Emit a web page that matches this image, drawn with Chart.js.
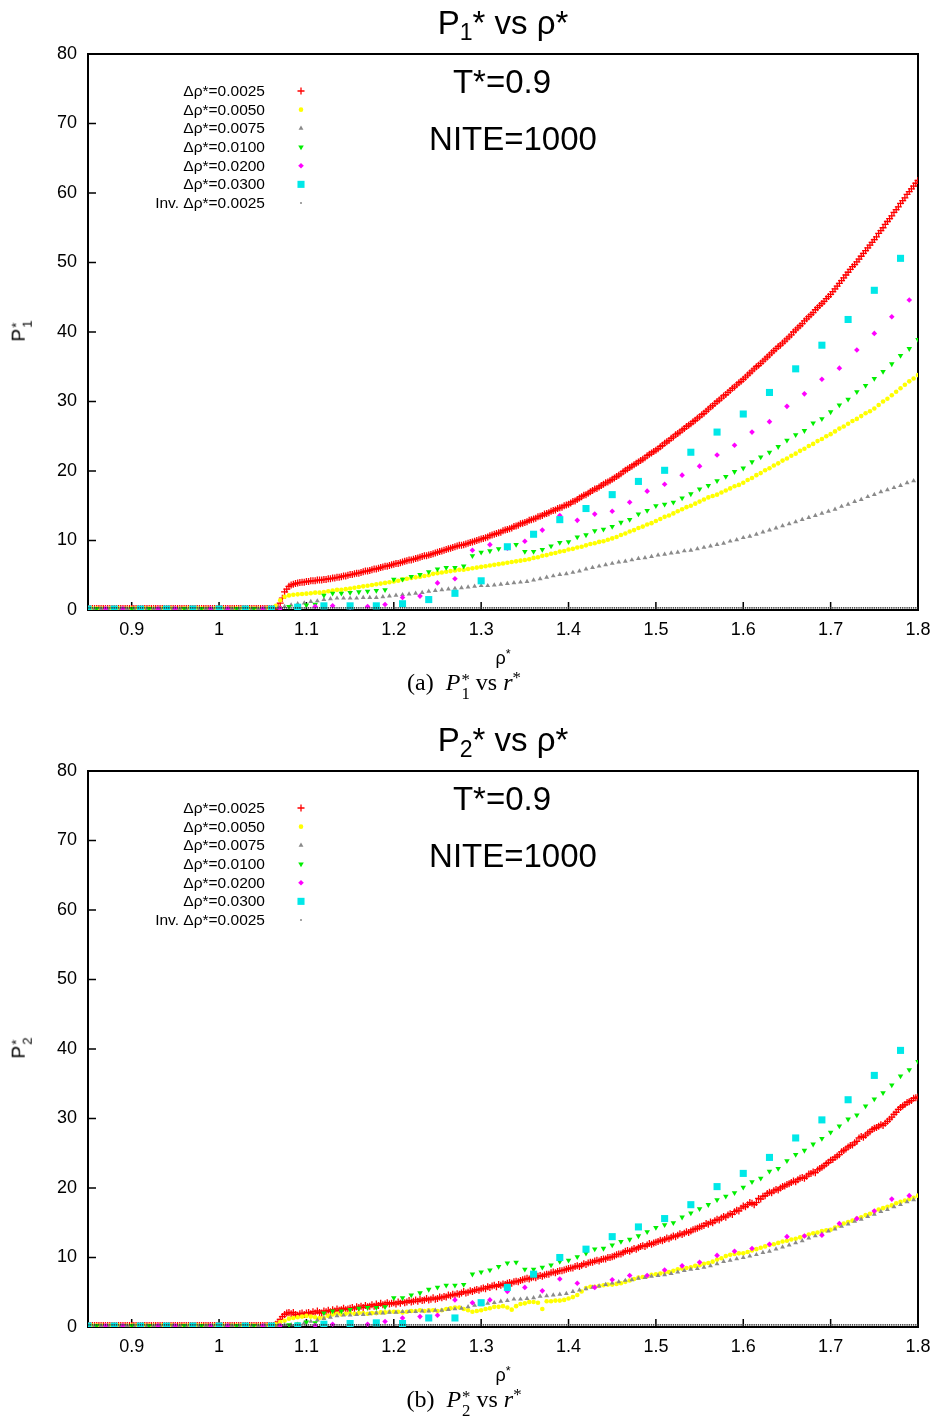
<!DOCTYPE html>
<html>
<head>
<meta charset="utf-8">
<script src="https://cdn.jsdelivr.net/npm/chart.js@4.4.0/dist/chart.umd.min.js"></script>
<style>
  body { margin: 0; background: #fff; width: 935px; height: 1420px; position: relative; overflow: hidden;
         font-family: 'Liberation Sans', Arial, sans-serif; color: #000; }
  canvas { position: absolute; left: 0; }
  .t { position: absolute; white-space: nowrap; transform: translate(-50%, -50%); line-height: 1; }
  .t sub { font-size: 0.7em; vertical-align: -0.3em; line-height: 0; }
  .t sup { font-size: 0.7em; vertical-align: 0.45em; line-height: 0; }
  .title { font-size: 33px; }
  .note { font-size: 33px; }
  .leg { font-size: 15.5px; transform: translate(-100%, -50%); }
  .axl { font-size: 18px; }
  .ylab { font-size: 19px; transform: translate(-50%, -50%) rotate(-90deg); }
  .cap { font-family: 'Liberation Serif', 'Times New Roman', serif; font-size: 24px; }
  .stk { display: inline-flex; flex-direction: column; font-size: 0.7em; line-height: 0.85; vertical-align: 0.3em; margin-left: 1px; }
</style>
</head>
<body>
<canvas id="c1" width="935" height="700" style="top:0px"></canvas>
<canvas id="c2" width="935" height="700" style="top:717px"></canvas>
<script>
// axis ticks and series labels
var xTickValues = [0.9, 1, 1.1, 1.2, 1.3, 1.4, 1.5, 1.6, 1.7, 1.8];
var yTickValues = [0, 10, 20, 30, 40, 50, 60, 70, 80];
var seriesLabels = ['Δρ*=0.0025', 'Δρ*=0.0050', 'Δρ*=0.0075', 'Δρ*=0.0100', 'Δρ*=0.0200', 'Δρ*=0.0300', 'Inv. Δρ*=0.0025'];
var seriesSteps = [0.0025, 0.005, 0.0075, 0.01, 0.02, 0.03, 0.0025];
var rhoStart = 0.85;

// ---- P1* (chart a) ----
var p1Red = [
  0.2,0.2,0.2,0.2,0.2,0.2,0.2,0.2,0.2,0.2,
  0.2,0.2,0.2,0.2,0.2,0.2,0.2,0.2,0.2,0.2,
  0.2,0.2,0.2,0.2,0.2,0.2,0.2,0.2,0.2,0.2,
  0.2,0.2,0.2,0.2,0.2,0.2,0.2,0.2,0.2,0.2,
  0.2,0.2,0.2,0.2,0.2,0.2,0.2,0.2,0.2,0.2,
  0.2,0.2,0.2,0.2,0.2,0.2,0.2,0.2,0.2,0.2,
  0.2,0.2,0.2,0.2,0.2,0.2,0.2,0.2,0.2,0.2,
  0.2,0.2,0.2,0.2,0.2,0.2,0.2,0.2,0.2,0.2,
  0.2,0.2,0.2,0.2,0.2,0.2,0.2,0.5,1.0,1.7,
  2.6,3.0,3.4,3.6,3.7,3.8,3.9,3.95,4.0,4.0,
  4.1,4.1,4.2,4.2,4.2,4.3,4.3,4.3,4.4,4.4,
  4.5,4.5,4.6,4.6,4.7,4.7,4.8,4.9,4.9,5.0,
  5.1,5.1,5.2,5.3,5.3,5.4,5.5,5.6,5.6,5.7,
  5.8,5.9,5.9,6.0,6.1,6.2,6.3,6.3,6.4,6.5,
  6.6,6.7,6.7,6.8,6.9,7.0,7.1,7.2,7.2,7.3,
  7.4,7.5,7.6,7.7,7.8,7.8,7.9,8.0,8.1,8.2,
  8.3,8.4,8.5,8.6,8.7,8.8,8.9,9.0,9.1,9.2,
  9.3,9.3,9.4,9.5,9.6,9.7,9.8,9.9,10.0,10.1,
  10.2,10.3,10.4,10.5,10.7,10.8,10.9,11.0,11.1,11.2,
  11.4,11.5,11.6,11.7,11.8,12.0,12.1,12.2,12.4,12.5,
  12.6,12.7,12.9,13.0,13.1,13.2,13.4,13.5,13.6,13.8,
  13.9,14.0,14.2,14.3,14.4,14.6,14.7,14.8,15.0,15.1,
  15.2,15.4,15.6,15.7,15.9,16.1,16.3,16.5,16.6,16.8,
  17.0,17.2,17.4,17.5,17.7,17.9,18.1,18.3,18.4,18.6,
  18.8,19.0,19.2,19.4,19.6,19.9,20.1,20.3,20.5,20.7,
  20.9,21.1,21.3,21.5,21.7,21.9,22.2,22.4,22.6,22.8,
  23.0,23.2,23.5,23.7,24.0,24.2,24.4,24.7,24.9,25.2,
  25.4,25.6,25.9,26.1,26.4,26.6,26.8,27.1,27.3,27.6,
  27.8,28.1,28.3,28.6,28.9,29.2,29.4,29.7,30.0,30.2,
  30.5,30.8,31.0,31.3,31.6,31.9,32.1,32.4,32.7,32.9,
  33.2,33.5,33.8,34.1,34.4,34.7,35.0,35.2,35.5,35.8,
  36.1,36.4,36.7,37.0,37.3,37.6,37.9,38.1,38.4,38.7,
  39.0,39.3,39.6,40.0,40.3,40.6,40.9,41.2,41.6,41.9,
  42.2,42.5,42.8,43.2,43.5,43.8,44.1,44.4,44.8,45.1,
  45.4,45.8,46.2,46.6,47.0,47.4,47.8,48.2,48.6,49.0,
  49.4,49.7,50.1,50.5,50.9,51.3,51.7,52.1,52.5,52.9,
  53.3,53.7,54.2,54.6,55.0,55.5,55.9,56.3,56.7,57.2,
  57.6,58.0,58.5,58.9,59.3,59.8,60.2,60.6,61.0,61.4,
  61.8
];
var p1Yellow = [
  0.2,0.2,0.2,0.2,0.2,0.2,0.2,0.2,0.2,0.2,
  0.2,0.2,0.2,0.2,0.2,0.2,0.2,0.2,0.2,0.2,
  0.2,0.2,0.2,0.2,0.2,0.2,0.2,0.2,0.2,0.2,
  0.2,0.2,0.2,0.2,0.2,0.2,0.2,0.2,0.2,0.2,
  0.2,0.2,0.2,0.6,1.4,1.9,2.1,2.2,2.25,2.3,
  2.35,2.4,2.5,2.5,2.6,2.7,2.8,2.9,2.9,3.0,
  3.1,3.2,3.3,3.4,3.5,3.6,3.7,3.8,3.9,4.0,
  4.1,4.2,4.4,4.5,4.6,4.7,4.8,4.9,5.0,5.2,
  5.3,5.4,5.5,5.6,5.7,5.8,5.8,5.9,6.0,6.1,
  6.2,6.3,6.4,6.5,6.6,6.7,6.8,6.9,7.0,7.1,
  7.2,7.3,7.5,7.6,7.8,7.9,8.1,8.2,8.4,8.5,
  8.7,8.8,9.0,9.1,9.3,9.5,9.6,9.8,9.9,10.1,
  10.3,10.5,10.8,11.0,11.3,11.5,11.8,12.0,12.3,12.5,
  12.8,13.1,13.4,13.6,13.9,14.2,14.5,14.8,15.0,15.3,
  15.6,15.9,16.2,16.4,16.6,16.9,17.2,17.5,17.8,18.0,
  18.3,18.7,19.0,19.4,19.7,20.1,20.4,20.8,21.1,21.5,
  21.8,22.2,22.5,22.9,23.2,23.6,23.9,24.3,24.6,25.0,
  25.3,25.7,26.1,26.4,26.8,27.2,27.5,27.9,28.3,28.6,
  29.0,29.5,30.0,30.4,30.9,31.4,31.9,32.4,32.9,33.3,
  33.8
];
var p1Gray = [
  0.2,0.2,0.2,0.2,0.2,0.2,0.2,0.2,0.2,0.2,
  0.2,0.2,0.2,0.2,0.2,0.2,0.2,0.2,0.2,0.2,
  0.2,0.2,0.2,0.2,0.2,0.2,0.2,0.2,0.2,0.3,
  0.5,0.7,0.9,1.0,1.2,1.3,1.5,1.6,1.7,1.7,
  1.7,1.7,1.8,1.8,1.8,1.9,2.0,2.1,2.2,2.3,
  2.4,2.5,2.7,2.8,2.9,3.0,3.1,3.2,3.3,3.4,
  3.5,3.5,3.6,3.7,3.8,3.9,4.0,4.1,4.3,4.5,
  4.7,4.9,5.1,5.2,5.4,5.6,5.9,6.1,6.3,6.5,
  6.7,6.9,7.0,7.2,7.4,7.5,7.7,7.9,8.0,8.2,
  8.3,8.5,8.6,8.8,9.0,9.2,9.4,9.6,9.9,10.1,
  10.4,10.6,10.9,11.2,11.5,11.8,12.1,12.4,12.7,13.0,
  13.3,13.6,13.9,14.2,14.5,14.9,15.2,15.6,15.9,16.3,
  16.6,17.0,17.3,17.6,17.9,18.3,18.6
];
var p1Green = [
  0.2,0.2,0.2,0.2,0.2,0.2,0.2,0.2,0.2,0.2,
  0.2,0.2,0.2,0.2,0.2,0.2,0.2,0.2,0.2,0.2,
  0.2,0.2,0.2,0.5,0.5,0.7,0.8,2.1,2.4,2.4,
  2.5,2.6,2.7,2.8,2.9,4.4,4.4,4.8,5.1,5.5,
  5.9,6.1,6.1,6.3,7.8,8.3,8.5,8.8,9.1,9.4,
  8.4,8.4,8.7,9.2,9.7,9.8,10.5,10.8,11.4,11.6,
  12.0,12.6,13.0,13.8,14.3,15.0,15.2,15.5,16.1,16.7,
  17.4,17.9,18.6,19.2,19.9,20.4,21.3,22.0,22.7,23.5,
  24.4,25.2,25.8,26.9,27.5,28.5,29.5,30.3,31.4,32.3,
  33.3,34.3,35.4,36.6,37.6,38.9
];
var p1Magenta = [
  0.2,0.2,0.2,0.2,0.2,0.2,0.2,0.2,0.2,0.2,
  0.2,0.2,0.3,0.5,0.6,0.4,0.5,0.8,1.8,2.0,
  3.9,4.5,8.6,9.4,8.9,9.9,11.5,13.6,12.9,13.8,
  14.2,15.5,17.1,18.1,19.4,20.7,22.3,23.7,25.6,27.1,
  29.3,31.1,33.2,34.8,37.4,39.8,42.2,44.6
];
var p1Cyan = [
  0.15,0.15,0.15,0.15,0.15,0.15,0.15,0.15,0.4,0.6,
  0.6,0.6,0.9,1.5,2.4,4.2,9.1,10.9,13.0,14.6,
  16.6,18.5,20.1,22.7,25.6,28.2,31.3,34.7,38.1,41.8,
  46.0,50.6
];

// ---- P2* (chart b) ----
var p2Red = [
  0.2,0.2,0.2,0.2,0.2,0.2,0.2,0.2,0.2,0.2,
  0.2,0.2,0.2,0.2,0.2,0.2,0.2,0.2,0.2,0.2,
  0.2,0.2,0.2,0.2,0.2,0.2,0.2,0.2,0.2,0.2,
  0.2,0.2,0.2,0.2,0.2,0.2,0.2,0.2,0.2,0.2,
  0.2,0.2,0.2,0.2,0.2,0.2,0.2,0.2,0.2,0.2,
  0.2,0.2,0.2,0.2,0.2,0.2,0.2,0.2,0.2,0.2,
  0.2,0.2,0.2,0.2,0.2,0.2,0.2,0.2,0.2,0.2,
  0.2,0.2,0.2,0.2,0.2,0.2,0.2,0.2,0.2,0.2,
  0.2,0.2,0.2,0.2,0.2,0.2,0.4,0.7,1.1,1.5,
  1.8,2.0,2.1,1.9,2.1,1.8,1.7,1.9,2.0,1.8,
  2.0,2.1,1.9,2.2,2.0,2.3,2.1,2.0,2.3,2.2,
  2.4,2.2,2.5,2.3,2.6,2.4,2.5,2.7,2.5,2.6,
  2.7,2.8,2.6,2.9,2.8,3.0,2.8,3.1,2.9,3.0,
  3.2,3.0,3.3,3.1,3.4,3.2,3.3,3.5,3.3,3.4,
  3.5,3.3,3.6,3.4,3.7,3.5,3.6,3.8,3.6,3.7,
  3.9,3.7,4.0,3.8,3.9,4.1,3.9,4.0,4.2,4.0,
  4.1,4.3,4.2,4.4,4.3,4.6,4.5,4.7,4.6,4.8,
  4.7,4.9,5.1,4.9,5.0,5.2,5.1,5.3,5.4,5.3,
  5.5,5.6,5.5,5.8,5.7,5.9,6.0,5.8,6.1,6.0,
  6.2,6.1,6.3,6.4,6.3,6.5,6.6,6.5,6.7,6.8,
  6.9,7.0,6.9,7.1,7.2,7.1,7.3,7.4,7.3,7.5,
  7.6,7.6,7.8,7.9,7.8,8.0,8.1,8.1,8.2,8.3,
  8.4,8.5,8.5,8.7,8.8,8.7,8.9,9.1,9.0,9.2,
  9.3,9.3,9.5,9.6,9.5,9.7,9.8,9.8,10.0,10.0,
  10.1,10.2,10.4,10.5,10.5,10.7,10.9,11.0,10.9,11.1,
  11.3,11.2,11.4,11.6,11.7,11.6,11.8,12.0,11.9,12.1,
  12.2,12.3,12.5,12.4,12.6,12.8,12.7,12.9,13.1,13.0,
  13.2,13.4,13.3,13.5,13.7,13.6,13.8,14.0,14.1,14.2,
  14.4,14.5,14.6,14.9,14.8,15.1,15.0,15.3,15.5,15.4,
  15.7,15.9,15.8,16.1,16.3,16.2,16.6,16.8,16.7,17.1,
  17.4,17.3,17.6,17.9,17.8,17.6,17.9,18.5,18.4,18.8,
  18.9,19.2,19.4,19.3,19.6,19.8,19.7,20.0,20.2,20.3,
  20.5,20.6,20.8,21.0,20.9,21.2,21.4,21.5,21.4,21.7,
  22.0,22.1,22.3,22.2,22.6,22.8,23.0,23.2,23.5,23.7,
  24.0,24.1,24.4,24.6,24.8,25.2,25.4,25.6,25.9,26.1,
  26.2,26.5,26.7,27.2,27.4,27.3,27.6,27.9,28.1,28.4,
  28.6,28.7,28.9,29.1,29.0,29.3,29.6,29.9,30.2,30.6,
  30.9,31.3,31.6,31.8,32.0,32.3,32.4,32.6,32.9,33.0,
  33.1
];
var p2Yellow = [
  0.2,0.2,0.2,0.2,0.2,0.2,0.2,0.2,0.2,0.2,
  0.2,0.2,0.2,0.2,0.2,0.2,0.2,0.2,0.2,0.2,
  0.2,0.2,0.2,0.2,0.2,0.2,0.2,0.2,0.2,0.2,
  0.2,0.2,0.2,0.2,0.2,0.2,0.2,0.2,0.2,0.2,
  0.2,0.2,0.2,0.4,0.7,0.9,1.2,1.3,1.4,1.5,
  1.6,1.5,1.4,1.3,1.3,1.6,1.8,1.9,1.8,1.9,
  2.0,1.9,2.0,2.0,1.9,2.0,2.0,2.1,2.1,2.2,
  2.2,2.2,2.1,2.2,2.3,2.3,2.4,2.3,2.4,2.4,
  2.3,2.4,2.6,2.7,2.8,2.8,2.6,2.4,2.2,2.3,
  2.4,2.6,2.7,2.9,2.9,3.0,2.8,2.5,3.0,3.3,
  3.4,3.6,3.6,3.5,2.6,3.7,3.7,3.8,3.8,3.9,
  4.1,4.3,4.6,5.1,5.6,5.8,5.8,5.9,6.0,6.1,
  6.1,6.2,6.3,6.5,6.7,6.9,7.1,7.2,7.3,7.5,
  7.6,7.7,7.8,7.9,8.1,8.3,8.4,8.5,8.6,8.8,
  8.9,9.1,9.2,9.4,9.7,9.9,10.2,10.4,10.5,10.6,
  10.6,10.8,11.0,11.2,11.4,11.6,11.8,11.9,12.1,12.3,
  12.4,12.6,12.7,12.9,13.1,13.3,13.5,13.6,13.8,13.9,
  14.0,14.3,14.6,14.9,15.1,15.3,15.6,15.8,16.1,16.3,
  16.6,16.9,17.1,17.3,17.5,17.8,18.0,18.2,18.4,18.6,
  18.9
];
var p2Gray = [
  0.2,0.2,0.2,0.2,0.2,0.2,0.2,0.2,0.2,0.2,
  0.2,0.2,0.2,0.2,0.2,0.2,0.2,0.2,0.2,0.2,
  0.2,0.2,0.2,0.2,0.2,0.2,0.2,0.2,0.2,0.2,
  0.3,0.3,0.4,0.6,0.8,1.0,1.2,1.4,1.6,1.7,
  1.7,1.8,1.8,1.9,2.0,2.0,2.1,2.1,2.2,2.2,
  2.2,2.3,2.3,2.4,2.4,2.5,2.6,2.7,2.9,3.1,
  3.2,3.4,3.5,3.7,3.8,4.0,4.0,4.1,4.2,4.4,
  4.5,4.6,4.7,4.8,5.1,5.3,5.5,5.7,5.9,6.1,
  6.3,6.5,6.7,6.8,7.0,7.1,7.3,7.4,7.5,7.7,
  7.9,8.1,8.3,8.4,8.6,8.8,9.1,9.4,9.6,9.8,
  10.0,10.2,10.4,10.7,10.9,11.2,11.5,11.8,12.1,12.4,
  12.8,13.1,13.4,13.8,14.1,14.5,14.8,15.2,15.5,15.9,
  16.2,16.6,16.9,17.3,17.6,18.0,18.3
];
var p2Green = [
  0.2,0.2,0.2,0.2,0.2,0.2,0.2,0.2,0.2,0.2,
  0.2,0.2,0.2,0.2,0.2,0.2,0.2,0.2,0.2,0.2,
  0.2,0.2,0.2,0.3,0.4,0.7,0.6,2.0,2.3,2.3,
  2.5,2.7,2.8,2.8,2.9,4.2,4.2,4.6,4.9,5.4,
  5.7,6.0,6.0,6.1,7.6,7.9,8.2,8.7,9.2,9.3,
  8.3,8.3,8.6,8.9,9.4,9.6,10.1,10.6,11.2,11.3,
  11.8,12.3,12.6,13.1,13.7,14.3,14.7,15.0,15.8,16.4,
  17.0,17.6,18.3,18.8,19.3,20.1,20.9,21.4,22.4,22.8,
  23.9,24.8,25.4,26.3,27.1,28.0,28.9,29.9,30.5,31.8,
  32.8,33.7,34.8,36.1,37.0,38.2
];
var p2Magenta = [
  0.2,0.2,0.2,0.2,0.2,0.2,0.2,0.2,0.2,0.2,
  0.2,0.2,0.1,0.2,0.4,0.1,0.4,0.8,1.3,1.5,
  1.7,3.9,3.5,3.9,5.1,5.7,5.2,6.9,6.3,5.7,
  6.8,7.4,7.4,8.2,8.8,9.3,10.3,10.9,11.3,11.9,
  13.0,13.1,13.2,14.9,15.6,16.7,18.4,18.9
];
var p2Cyan = [
  0.15,0.15,0.15,0.15,0.15,0.15,0.15,0.15,0.15,0.4,
  0.5,0.6,0.5,1.3,1.3,3.5,5.7,7.6,10.0,11.2,
  13.0,14.4,15.6,17.6,20.2,22.1,24.4,27.2,29.8,32.7,
  36.2,39.8
];

// inverse run, flat along zero in both panels
var invValues = [
  0.3,0.3,0.3,0.3,0.3,0.3,0.3,0.3,0.3,0.3,
  0.3,0.3,0.3,0.3,0.3,0.3,0.3,0.3,0.3,0.3,
  0.3,0.3,0.3,0.3,0.3,0.3,0.3,0.3,0.3,0.3,
  0.3,0.3,0.3,0.3,0.3,0.3,0.3,0.3,0.3,0.3,
  0.3,0.3,0.3,0.3,0.3,0.3,0.3,0.3,0.3,0.3,
  0.3,0.3,0.3,0.3,0.3,0.3,0.3,0.3,0.3,0.3,
  0.3,0.3,0.3,0.3,0.3,0.3,0.3,0.3,0.3,0.3,
  0.3,0.3,0.3,0.3,0.3,0.3,0.3,0.3,0.3,0.3,
  0.3,0.3,0.3,0.3,0.3,0.3,0.3,0.3,0.3,0.3,
  0.3,0.3,0.3,0.3,0.3,0.3,0.3,0.3,0.3,0.3,
  0.3,0.3,0.3,0.3,0.3,0.3,0.3,0.3,0.3,0.3,
  0.3,0.3,0.3,0.3,0.3,0.3,0.3,0.3,0.3,0.3,
  0.3,0.3,0.3,0.3,0.3,0.3,0.3,0.3,0.3,0.3,
  0.3,0.3,0.3,0.3,0.3,0.3,0.3,0.3,0.3,0.3,
  0.3,0.3,0.3,0.3,0.3,0.3,0.3,0.3,0.3,0.3,
  0.3,0.3,0.3,0.3,0.3,0.3,0.3,0.3,0.3,0.3,
  0.3,0.3,0.3,0.3,0.3,0.3,0.3,0.3,0.3,0.3,
  0.3,0.3,0.3,0.3,0.3,0.3,0.3,0.3,0.3,0.3,
  0.3,0.3,0.3,0.3,0.3,0.3,0.3,0.3,0.3,0.3,
  0.3,0.3,0.3,0.3,0.3,0.3,0.3,0.3,0.3,0.3,
  0.3,0.3,0.3,0.3,0.3,0.3,0.3,0.3,0.3,0.3,
  0.3,0.3,0.3,0.3,0.3,0.3,0.3,0.3,0.3,0.3,
  0.3,0.3,0.3,0.3,0.3,0.3,0.3,0.3,0.3,0.3,
  0.3,0.3,0.3,0.3,0.3,0.3,0.3,0.3,0.3,0.3,
  0.3,0.3,0.3,0.3,0.3,0.3,0.3,0.3,0.3,0.3,
  0.3,0.3,0.3,0.3,0.3,0.3,0.3,0.3,0.3,0.3,
  0.3,0.3,0.3,0.3,0.3,0.3,0.3,0.3,0.3,0.3,
  0.3,0.3,0.3,0.3,0.3,0.3,0.3,0.3,0.3,0.3,
  0.3,0.3,0.3,0.3,0.3,0.3,0.3,0.3,0.3,0.3,
  0.3,0.3,0.3,0.3,0.3,0.3,0.3,0.3,0.3,0.3,
  0.3,0.3,0.3,0.3,0.3,0.3,0.3,0.3,0.3,0.3,
  0.3,0.3,0.3,0.3,0.3,0.3,0.3,0.3,0.3,0.3,
  0.3,0.3,0.3,0.3,0.3,0.3,0.3,0.3,0.3,0.3,
  0.3,0.3,0.3,0.3,0.3,0.3,0.3,0.3,0.3,0.3,
  0.3,0.3,0.3,0.3,0.3,0.3,0.3,0.3,0.3,0.3,
  0.3,0.3,0.3,0.3,0.3,0.3,0.3,0.3,0.3,0.3,
  0.3,0.3,0.3,0.3,0.3,0.3,0.3,0.3,0.3,0.3,
  0.3,0.3,0.3,0.3,0.3,0.3,0.3,0.3,0.3,0.3,
  0.3
];

// marker look per series (gnuplot-like point types)
var markStyles = [
  { pointStyle: 'cross',    radius: 3.5, color: '#ff0000', border: 1.3, rotation: 0 },
  { pointStyle: 'circle',   radius: 2.3, color: '#ffff00', border: 0,   rotation: 0 },
  { pointStyle: 'triangle', radius: 2.8, color: '#8a8a8a', border: 0,   rotation: 0 },
  { pointStyle: 'triangle', radius: 3.2, color: '#00ee00', border: 0,   rotation: 180 },
  { pointStyle: 'rectRot',  radius: 2.8, color: '#ff00ff', border: 0,   rotation: 0 },
  { pointStyle: 'rect',     radius: 5,   color: '#00e8e8', border: 0,   rotation: 0 },
  { pointStyle: 'circle',   radius: 0.8, color: '#333333', border: 0,   rotation: 0 }
];

// box, inward ticks and key markers
var framePlugin = {
  id: 'frame',
  beforeDatasetsDraw: function (chart) {
    var ctx = chart.ctx, a = chart.chartArea, xs = chart.scales.x, ys = chart.scales.y;
    ctx.save();
    ctx.strokeStyle = '#000';
    ctx.lineWidth = 1.5;
    ctx.beginPath();
    xTickValues.forEach(function (v) {
      var px = xs.getPixelForValue(v);
      ctx.moveTo(px, a.bottom); ctx.lineTo(px, a.bottom - 8);
    });
    yTickValues.forEach(function (v) {
      var py = ys.getPixelForValue(v);
      ctx.moveTo(a.left, py); ctx.lineTo(a.left + 8, py);
    });
    ctx.stroke();
    ctx.lineWidth = 2;
    ctx.strokeRect(a.left, a.top, a.right - a.left, a.bottom - a.top);
    ctx.restore();
  },
  afterDraw: function (chart) {
    var ctx = chart.ctx;
    ctx.save();
    markStyles.forEach(function (s, k) {
      ctx.fillStyle = s.color;
      ctx.strokeStyle = s.color;
      ctx.lineWidth = s.border;
      Chart.helpers.drawPoint(ctx, { pointStyle: s.pointStyle, radius: s.radius, rotation: s.rotation, borderWidth: s.border },
        301, 91 + k * 18.67);
    });
    ctx.restore();
  }
};

function makeChart(canvasId, groups) {
  var datasets = groups.map(function (vals, k) {
    var s = markStyles[k];
    return {
      label: seriesLabels[k],
      data: vals.map(function (v, i) { return { x: +(rhoStart + i * seriesSteps[k]).toFixed(4), y: v }; }),
      order: 7 - k,
      showLine: false,
      pointStyle: s.pointStyle,
      pointRadius: s.radius,
      pointHoverRadius: s.radius,
      pointRotation: s.rotation,
      pointBackgroundColor: s.color,
      pointBorderColor: s.color,
      pointBorderWidth: s.border
    };
  });
  return new Chart(document.getElementById(canvasId), {
    type: 'scatter',
    data: { datasets: datasets },
    options: {
      responsive: false,
      animation: false,
      events: [],
      layout: { padding: { top: 54, right: 17, left: 0, bottom: 0 } },
      plugins: { legend: { display: false }, tooltip: { enabled: false } },
      scales: {
        x: {
          type: 'linear', min: 0.85, max: 1.8,
          grid: { display: false, drawTicks: false },
          border: { display: false },
          afterBuildTicks: function (s) { s.ticks = xTickValues.map(function (v) { return { value: v }; }); },
          afterFit: function (s) { s.height = 90; s.paddingLeft = 0; s.paddingRight = 0; },
          ticks: { padding: 9, color: '#000', font: { size: 18 }, maxRotation: 0, autoSkip: false,
                   callback: function (v) { return String(v); } }
        },
        y: {
          type: 'linear', min: 0, max: 80,
          grid: { display: false, drawTicks: false },
          border: { display: false },
          afterBuildTicks: function (s) { s.ticks = yTickValues.map(function (v) { return { value: v }; }); },
          afterFit: function (s) { s.width = 88; s.paddingTop = 0; s.paddingBottom = 0; },
          ticks: { padding: 11, color: '#000', font: { size: 18 },
                   callback: function (v) { return String(v); } }
        }
      }
    },
    plugins: [framePlugin]
  });
}

function addText(html, x, y, cls) {
  var d = document.createElement('div');
  d.className = 't ' + cls;
  d.innerHTML = html;
  d.style.left = x + 'px';
  d.style.top = y + 'px';
  document.body.appendChild(d);
}

function addLabels(off, n, tag) {
  addText('P<sub>' + n + '</sub>* vs ρ*', 503, 22 + off, 'title');
  addText('T*=0.9', 502, 81 + off, 'note');
  addText('NITE=1000', 513, 138 + off, 'note');
  seriesLabels.forEach(function (lab, k) { addText(lab, 265, 91 + k * 18.67 + off, 'leg'); });
  addText('P<span class="stk"><span>*</span><span>' + n + '</span></span>', 21, 331 + off, 'ylab');
  addText('ρ<sup>*</sup>', 503, 658 + off, 'axl');
  addText('(' + tag + ')&nbsp; <i>P</i><span class="stk"><span>*</span><span>' + n + '</span></span> vs <i>r</i><sup>*</sup>',
    464, 686 + off, 'cap');
}

Chart.defaults.font.family = "'Liberation Sans', Arial, sans-serif";
makeChart('c1', [p1Red, p1Yellow, p1Gray, p1Green, p1Magenta, p1Cyan, invValues]);
makeChart('c2', [p2Red, p2Yellow, p2Gray, p2Green, p2Magenta, p2Cyan, invValues]);
addLabels(0, 1, 'a');
addLabels(717, 2, 'b');
</script>
</body>
</html>
